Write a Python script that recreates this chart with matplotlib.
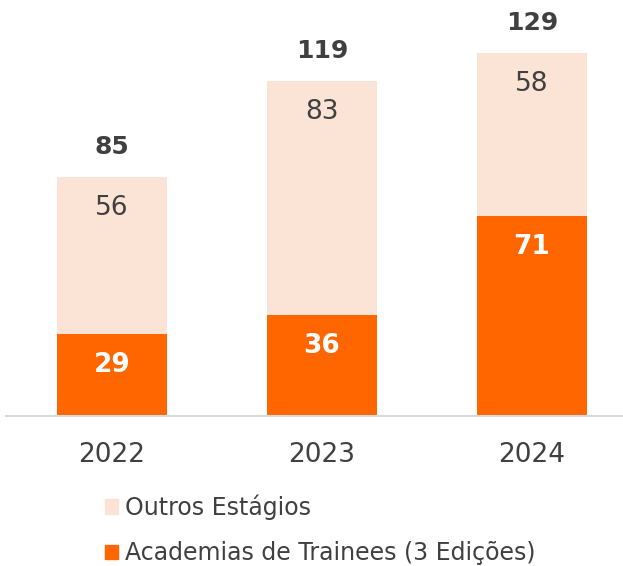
import matplotlib.pyplot as plt
from matplotlib.patches import Patch
import numpy as np

years = ['2022', '2023', '2024']
academias = [29, 36, 71]
outros = [56, 83, 58]
totals = [a + o for a, o in zip(academias, outros)]

orange = '#FF6600'
peach = '#FBE3D6'
text_col = '#404040'

fig = plt.figure(figsize=(6.23, 5.66), dpi=100)
ax = fig.add_axes([6 / 623, 150 / 566, 617 / 623, 394 / 566])

x = np.arange(len(years))
w = 110 / 210
b1 = ax.bar(x, academias, w, color=orange, label='Academias de Trainees (3 Edições)')
b2 = ax.bar(x, outros, w, bottom=academias, color=peach, label='Outros Estágios')

# labels ~31px below the top of each segment
off = -31 * 72 / 100
for i in range(len(years)):
    ax.annotate(str(academias[i]), (x[i], academias[i]), xytext=(0, off),
                textcoords='offset points', ha='center', va='center',
                fontsize=19, fontweight='bold', color='white')
    ax.annotate(str(outros[i]), (x[i], totals[i]), xytext=(0, off),
                textcoords='offset points', ha='center', va='center',
                fontsize=19, color=text_col)
    ax.annotate(str(totals[i]), (x[i], totals[i]), xytext=(0, 30 * 72 / 100),
                textcoords='offset points', ha='center', va='center',
                fontsize=18, fontweight='bold', color=text_col, annotation_clip=False)

ax.set_xlim(-106 / 210, 2 + 91 / 210)
ax.set_ylim(0, 140)
ax.set_xticks(x)
ax.set_xticklabels(years, fontsize=19, color=text_col)
ax.tick_params(axis='x', length=0, pad=19)
ax.set_yticks([])
for s in ['top', 'right', 'left']:
    ax.spines[s].set_visible(False)
ax.spines['bottom'].set_color('#D9D9D9')
ax.spines['bottom'].set_linewidth(1.5)

handles = [Patch(color=peach), Patch(color=orange)]
labels = ['Outros Estágios', 'Academias de Trainees (3 Edições)']
fig.legend(handles, labels, loc='upper left', bbox_to_anchor=(84 / 623, 1 - 473 / 566),
           frameon=False, fontsize=17, labelcolor=text_col, handlelength=0.55,
           handleheight=0.55, handletextpad=0.3, labelspacing=0.92)

fig.savefig('out.png', dpi=100)
